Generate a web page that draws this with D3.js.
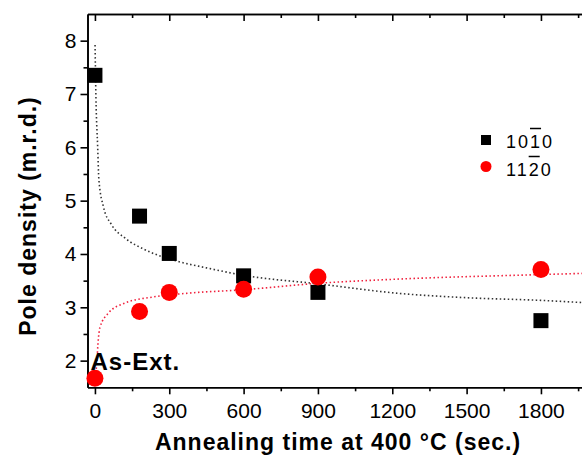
<!DOCTYPE html>
<html lang="en">
<head>
<meta charset="utf-8">
<script src="https://cdn.jsdelivr.net/npm/d3@7/dist/d3.min.js"></script>
<style>
body { margin:0; background:#fff; }
svg { display:block; font-family:"Liberation Sans", Arial, sans-serif; }
.axis path, .axis line { stroke:#000; stroke-width:1.6; }
.axis text { font-size:21px; fill:#000; font-family:"Liberation Sans", Arial, sans-serif; }
.title { font-size:23px; font-weight:bold; letter-spacing:1px; fill:#000; }
.fit { fill:none; stroke-width:1.6; stroke-dasharray:1.5,2.5; }
</style>
</head>
<body>
<svg id="chart"></svg>
<script>

// measured points
var times  = [0, 180, 300, 600, 900, 1800];
var pole1010 = [7.35, 4.71, 4.01, 3.59, 3.28, 2.75];
var pole1120 = [1.67, 2.92, 3.28, 3.34, 3.57, 3.71];

// dotted fit curves
var fit1010T = [0.5, 4, 11, 16, 34, 67, 121, 202, 336, 450, 600, 900, 1230, 1500, 1800, 2000];
var fit1010V = [7.92, 6.95, 6.01, 5.39, 4.89, 4.55, 4.30, 4.08, 3.86, 3.74, 3.60, 3.44, 3.26, 3.18, 3.13, 3.08];
var fit1120T = [0, 3, 8, 12, 20, 54, 121, 229, 363, 600, 900, 1230, 1770, 2000];
var fit1120V = [1.70, 1.75, 2.00, 2.30, 2.62, 2.89, 3.08, 3.19, 3.26, 3.33, 3.45, 3.53, 3.61, 3.64];

var xTicks = [0, 300, 600, 900, 1200, 1500, 1800];
var xMinor = [150, 450, 750, 1050, 1350, 1650, 1950];
var yTicks = [2, 3, 4, 5, 6, 7, 8];
var yMinor = [2.5, 3.5, 4.5, 5.5, 6.5, 7.5];

var W = 582, H = 458;
var svg = d3.select("#chart").attr("width", W).attr("height", H);

var x = d3.scaleLinear().domain([-30, 2000]).range([87.5, 590.5]);
var y = d3.scaleLinear().domain([1.5, 8.5]).range([387.3, 14]);
var intFmt = d3.format("d");

svg.append("rect").attr("width", W).attr("height", H).attr("fill", "#fff");

svg.append("defs").append("clipPath").attr("id", "plot")
	.append("rect").attr("x", x(-30)).attr("y", y(8.5)).attr("width", x(2000) - x(-30)).attr("height", y(1.5) - y(8.5));

// fit curves
var line = d3.line().x(function(d){return x(d[0]);}).y(function(d){return y(d[1]);}).curve(d3.curveMonotoneX);
var fits = svg.append("g").attr("clip-path", "url(#plot)");
fits.append("path").attr("class", "fit").attr("stroke", "#333")
	.attr("d", line(d3.zip(fit1010T, fit1010V)));
fits.append("path").attr("class", "fit").attr("stroke", "#f0203c")
	.attr("d", line(d3.zip(fit1120T, fit1120V)));

// axes
function noLabel(){ return ""; }
svg.append("g").attr("class", "axis").attr("transform", "translate(0," + y(1.5) + ")")
	.call(d3.axisBottom(x).tickValues(xTicks).tickFormat(intFmt).tickSize(7).tickSizeOuter(0).tickPadding(9));
svg.append("g").attr("class", "axis").attr("transform", "translate(0," + y(1.5) + ")")
	.call(d3.axisBottom(x).tickValues(xMinor).tickSize(4).tickSizeOuter(0).tickFormat(noLabel));
svg.append("g").attr("class", "axis").attr("transform", "translate(0," + y(8.5) + ")")
	.call(d3.axisTop(x).tickValues(xTicks).tickSize(-7).tickSizeOuter(0).tickFormat(noLabel));
svg.append("g").attr("class", "axis").attr("transform", "translate(0," + y(8.5) + ")")
	.call(d3.axisTop(x).tickValues(xMinor).tickSize(-4).tickSizeOuter(0).tickFormat(noLabel));
svg.append("g").attr("class", "axis").attr("transform", "translate(" + x(-30) + ",0)")
	.call(d3.axisLeft(y).tickValues(yTicks).tickFormat(intFmt).tickSize(7).tickSizeOuter(0).tickPadding(4));
svg.append("g").attr("class", "axis").attr("transform", "translate(" + x(-30) + ",0)")
	.call(d3.axisLeft(y).tickValues(yMinor).tickSize(4).tickSizeOuter(0).tickFormat(noLabel));

// markers
var sq = 15;
svg.append("g").selectAll("rect").data(d3.zip(times, pole1010)).enter().append("rect")
	.attr("x", function(d){return x(d[0]) - sq/2;})
	.attr("y", function(d){return y(d[1]) - sq/2;})
	.attr("width", sq).attr("height", sq).attr("fill", "#000");
svg.append("g").selectAll("circle").data(d3.zip(times, pole1120)).enter().append("circle")
	.attr("cx", function(d){return x(d[0]);})
	.attr("cy", function(d){return y(d[1]);})
	.attr("r", 8.5).attr("fill", "#ff0000");

// annotation
svg.append("text").attr("x", x(-30) + 3).attr("y", y(1.82))
	.attr("font-size", 24).attr("font-weight", "bold").attr("letter-spacing", 1)
	.text("As-Ext.");

// axis titles
svg.append("text").attr("class", "title").attr("text-anchor", "middle")
	.attr("x", 338).attr("y", 450).text("Annealing time at 400 \u00B0C (sec.)");
svg.append("text").attr("class", "title").attr("text-anchor", "middle")
	.attr("transform", "translate(36,216) rotate(-90)").text("Pole density (m.r.d.)");

// legend
var leg = svg.append("g");
function overline(t, idx){
	var b = t.node().getExtentOfChar(idx);
	leg.append("line").attr("x1", b.x).attr("x2", b.x + b.width - 1)
		.attr("y1", b.y - 3).attr("y2", b.y - 3)
		.attr("stroke", "#000").attr("stroke-width", 1.5);
}
leg.append("rect").attr("x", 481).attr("y", 135).attr("width", 10).attr("height", 10).attr("fill", "#000");
leg.append("circle").attr("cx", 486).attr("cy", 166.5).attr("r", 5.5).attr("fill", "#ff0000");
var t1 = leg.append("text").attr("x", 506).attr("y", 147.5).attr("font-size", 18).attr("letter-spacing", 2).text("1010");
var t2 = leg.append("text").attr("x", 506).attr("y", 175.5).attr("font-size", 18).attr("letter-spacing", 2).text("1120");
overline(t1, 2);
overline(t2, 2);

</script>
</body>
</html>
